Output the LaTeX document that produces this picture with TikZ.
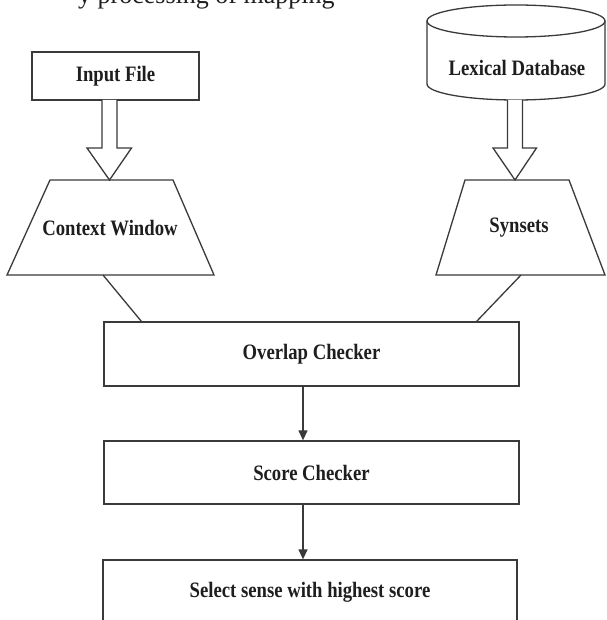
\documentclass[tikz,border=0pt]{standalone}
\usepackage{fontspec}
\setmainfont{Liberation Serif}
\newfontfamily\condb{Liberation Serif}[FakeStretch=0.85]
\usetikzlibrary{arrows.meta,calc}
\definecolor{lc}{HTML}{3A3A3A}
\definecolor{tc}{HTML}{1E1E1E}
\begin{document}
\begin{tikzpicture}[x=1pt,y=-1pt]
\tikzset{
  ln/.style={draw=lc, line width=1.3pt},
  lbl/.style={font=\condb\bfseries\fontsize{22}{24}\selectfont, text=tc, inner sep=0pt},
  box/.style={ln, rectangle, inner sep=0pt, lbl},
  flow/.style={ln, -{Triangle[length=10pt,width=9pt]}},
  hollow/.style={ln, fill=white, line join=miter},
}
\useasboundingbox (0,0) rectangle (606,620);
\fill[white] (0,0) rectangle (606,620);

% cut-off line of text at the top
\node[anchor=base west, inner sep=0pt, text=tc, font=\fontsize{26}{28}\selectfont] (frag) at (78,4) {y processing of mapping};

% Input File
\node[box, minimum width=167pt, minimum height=48pt] (inp) at (115.5,76) {Input File};

% Lexical Database cylinder
\draw[ln, fill=white] (427,21) -- (427,84) arc[start angle=180, end angle=0, x radius=89, y radius=16] -- (605,21);
\draw[ln] (516,21) ellipse[x radius=89, y radius=16];
\node[lbl] (lex) at (517,68) {Lexical Database};

% hollow arrows
\coordinate (a1) at (109.5,100);
\coordinate (a2) at (515,100);
\draw[hollow] ($(a1)+(-7.5,0)$) -- ++(0,48) -- ++(-15,0) -- ($(a1)+(0,80)$) coordinate (t1)
  -- ($(a1)+(22,48)$) -- ++(-14.5,0) -- ++(0,-48);
\draw[hollow] ($(a2)+(-7.5,0)$) -- ++(0,48) -- ++(-14.5,0) -- ($(a2)+(0,80)$) coordinate (t2)
  -- ($(a2)+(21.5,48)$) -- ++(-14,0) -- ++(0,-48);

% trapezia
\draw[ln] (50,180) -- (173,180) -- (214,275) -- (7,275) -- cycle;
\node[lbl] (cw) at (110,228) {Context Window};
\draw[ln] (465,180) -- (569,180) -- (605,275) -- (436,275) -- cycle;
\node[lbl] (syn) at (519,228) {Synsets};

\coordinate (cwb) at (103,275);
\coordinate (synb) at (521,275);

% process boxes
\node[box, minimum width=415pt, minimum height=64pt] (ov) at (311.5,354) {Overlap Checker};
\node[box, minimum width=415pt, minimum height=63pt] (sc) at (311.5,472.5) {Score Checker};
\node[box, minimum width=414pt, minimum height=64pt] (sel) at (310,592) {Select sense with highest score};

% connectors
\draw[ln] (cwb) -- ($(ov.north west)+(38,0)$);
\draw[ln] (synb) -- ($(ov.north east)+(-43,0)$);
\draw[flow] ($(ov.south)+(-8.5,0)$) -- ($(sc.north)+(-8.5,0)$);
\draw[flow] ($(sc.south)+(-8.5,0)$) -- ($(sel.north)+(-7,0)$);
\end{tikzpicture}
\end{document}
